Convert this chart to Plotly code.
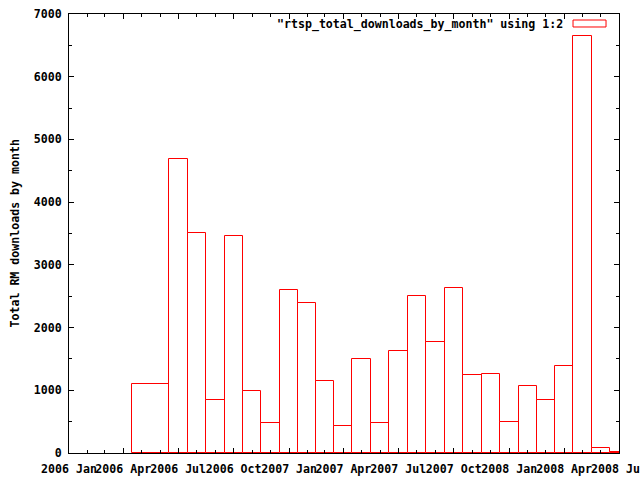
import pandas as pd
import plotly.graph_objects as go

# ---- data ----
period_start = ["2006-05", "2006-07", "2006-08", "2006-09", "2006-10", "2006-11",
                "2006-12", "2007-01", "2007-02", "2007-03", "2007-04", "2007-05",
                "2007-06", "2007-07", "2007-08", "2007-09", "2007-10", "2007-11",
                "2007-12", "2008-01", "2008-02", "2008-03", "2008-04", "2008-05",
                "2008-06", "2008-07"]
downloads = [1107, 4695, 3514, 851, 3466, 995,
             485, 2606, 2398, 1154, 437, 1505,
             485, 1633, 2510, 1765, 2638, 1250,
             1266, 501, 1075, 851, 1394, 6645,
             86, 22]
legend_label = '"rtsp_total_downloads_by_month" using 1:2'
y_title = "Total RM downloads by month"
x_range = ["2006-01-01", "2008-07-01"]
y_range = [0, 7000]

# ---- box edges: each box spans from mid of previous month to mid of its last month ----
def month_mid(m):
    s = pd.Timestamp(m)
    e = s + pd.DateOffset(months=1)
    return s + (e - s) / 2

starts = [pd.Timestamp(p) for p in period_start]
lefts = [month_mid(s - pd.DateOffset(months=1)) for s in starts]
rights = lefts[1:] + [month_mid(starts[-1])]
centers = [l + (r - l) / 2 for l, r in zip(lefts, rights)]
widths = [(r - l).total_seconds() * 1000 for l, r in zip(lefts, rights)]

FONT = dict(family="DejaVu Sans Mono", size=11.6, color="black", weight="bold")

fig = go.Figure()
fig.add_trace(go.Bar(
    x=centers, y=downloads, width=widths,
    marker=dict(color="white", line=dict(color="#ff0000", width=1)),
    showlegend=False,
))

fig.update_layout(
    width=640, height=480,
    margin=dict(l=69, r=21, t=14, b=27, autoexpand=False),
    paper_bgcolor="white", plot_bgcolor="white",
    font=FONT,
    bargap=0,
    xaxis=dict(
        type="date", range=x_range, automargin=False,
        tick0="2006-01-01", dtick="M3", tickformat="%Y %b",
        tickangle=0, ticks="inside", ticklen=5, tickcolor="black",
        minor=dict(dtick="M1", ticks="inside", ticklen=3, tickcolor="black"),
        showline=True, linecolor="black", linewidth=1, mirror="ticks",
        showgrid=False, zeroline=False, ticklabeloverflow="allow",
        ticklabelstandoff=5,
        tickfont=FONT,
    ),
    yaxis=dict(
        range=y_range, dtick=1000, tickformat="d", automargin=False,
        ticks="inside", ticklen=5, tickcolor="black",
        minor=dict(dtick=500, ticks="inside", ticklen=3, tickcolor="black"),
        showline=True, linecolor="black", linewidth=1, mirror="ticks",
        showgrid=False, zeroline=False,
        ticklabelstandoff=4,
        tickfont=FONT,
    ),
)

fig.add_annotation(
    text=y_title, textangle=-90, xref="paper", yref="paper",
    x=-0.1, y=0.5, xanchor="center", yanchor="middle",
    showarrow=False, font=FONT,
)
fig.add_annotation(
    text=legend_label, xref="paper", yref="paper",
    x=0.9018, y=0.977, xanchor="right", yanchor="middle",
    showarrow=False, font=FONT,
)
fig.add_shape(
    type="rect", xref="paper", yref="paper",
    x0=0.9164, x1=0.9764, y0=0.9704, y1=0.9863,
    line=dict(color="#ff0000", width=1), fillcolor="white",
)

fig.write_html("out.html")
